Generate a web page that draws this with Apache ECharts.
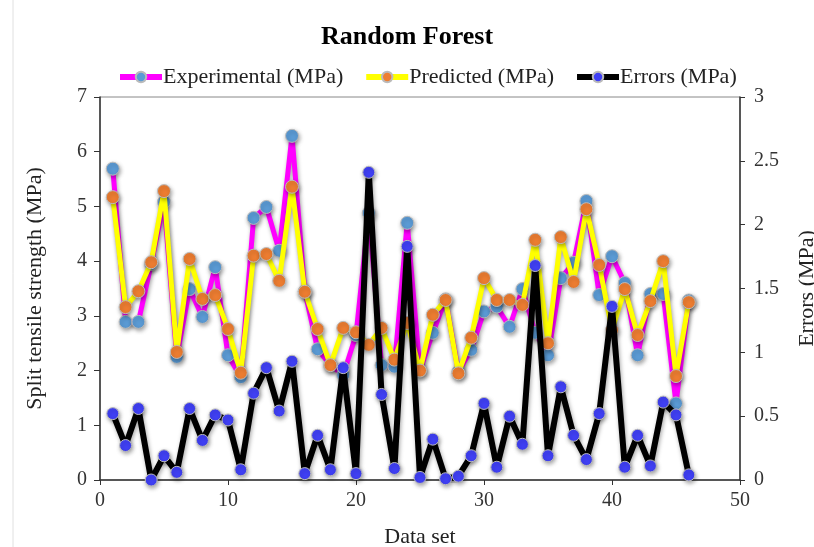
<!DOCTYPE html>
<html>
<head>
<meta charset="utf-8">
<script src="https://cdn.jsdelivr.net/npm/echarts@6/dist/echarts.min.js"></script>
<style>html,body{margin:0;padding:0;background:#fff;}#c{width:814px;height:547px;}</style>
</head>
<body>
<div id="c"></div>
<script>
var dataSet = [1,2,3,4,5,6,7,8,9,10,11,12,13,14,15,16,17,18,19,20,21,22,23,24,25,26,27,28,29,30,31,32,33,34,35,36,37,38,39,40,41,42,43,44,45,46];
var experimental = [5.69,2.89,2.89,3.95,5.08,2.25,3.49,2.98,3.89,2.28,1.88,4.79,4.99,4.19,6.29,3.45,2.39,2.1,1.92,2.65,4.88,2.1,2.07,4.7,2.0,2.69,3.3,1.98,2.38,3.08,3.17,2.8,3.49,2.69,2.28,3.69,3.97,5.1,3.38,4.09,3.6,2.28,3.4,3.4,1.4,3.28];
var predicted = [5.17,3.16,3.45,3.98,5.28,2.34,4.04,3.31,3.38,2.76,1.96,4.1,4.13,3.64,5.36,3.44,2.76,2.1,2.78,2.7,2.47,2.78,2.2,2.87,2.0,3.02,3.29,1.95,2.6,3.69,3.29,3.29,3.2,4.39,2.5,4.44,3.62,4.95,3.93,2.74,3.49,2.65,3.27,4.0,1.9,3.25];
var errors = [0.52,0.27,0.56,0.0,0.19,0.06,0.56,0.31,0.51,0.47,0.08,0.68,0.88,0.54,0.93,0.05,0.35,0.08,0.88,0.05,2.41,0.67,0.09,1.83,0.02,0.32,0.01,0.03,0.19,0.6,0.1,0.5,0.28,1.68,0.19,0.73,0.35,0.16,0.52,1.36,0.1,0.35,0.11,0.61,0.51,0.04];

function pairs(vals){ return dataSet.map(function(x,i){ return [x, vals[i]]; }); }
var FONT = '"Liberation Serif", "Times New Roman", serif';
var shadow = {shadowColor:'rgba(0,0,0,0.35)', shadowBlur:4, shadowOffsetX:1, shadowOffsetY:2};

var chart = echarts.init(document.getElementById('c'), null, {renderer:'canvas'});
chart.setOption({
  animation:false,
  backgroundColor:'#fff',
  title:{text:'Random Forest', left:'center', top:19, textStyle:{fontFamily:FONT, fontSize:26, fontWeight:'bold', color:'#000'}},
  legend:{
    top:61, left:112, itemWidth:42, itemHeight:13, itemGap:20,
    lineStyle:{width:6},
    textStyle:{fontFamily:FONT, fontSize:22, color:'#222', padding:[0,0,0,-4]},
    data:['Experimental (MPa)','Predicted (MPa)','Errors (MPa)']
  },
  graphic:[{type:'line', shape:{x1:13,y1:0,x2:13,y2:547}, style:{stroke:'#e0e0e0', lineWidth:1}}],
  grid:{left:100, right:74, top:97, bottom:67, outerBoundsMode:'none', containLabel:false, show:true, borderColor:'#888', borderWidth:1},
  xAxis:{
    type:'value', min:0, max:50, interval:10,
    name:'Data set', nameLocation:'middle', nameGap:46,
    nameTextStyle:{fontFamily:FONT, fontSize:22, color:'#222'},
    axisLine:{lineStyle:{color:'#333', width:1.5}},
    axisTick:{length:5, lineStyle:{color:'#333'}},
    axisLabel:{fontFamily:FONT, fontSize:20, color:'#333', margin:11},
    splitLine:{show:false}
  },
  yAxis:[{
    type:'value', min:0, max:7, interval:1,
    name:'Split tensile strength (MPa)', nameLocation:'middle', nameGap:54, nameRotate:90,
    nameTextStyle:{fontFamily:FONT, fontSize:22, color:'#222'},
    axisLine:{show:true, lineStyle:{color:'#333', width:1.5}},
    axisTick:{show:true, length:6, lineStyle:{color:'#333'}},
    axisLabel:{fontFamily:FONT, fontSize:20, color:'#333', margin:13},
    splitLine:{show:false}
  },{
    type:'value', min:0, max:3, interval:0.5, position:'right',
    name:'Errors (MPa)', nameLocation:'middle', nameGap:56, nameRotate:90,
    nameTextStyle:{fontFamily:FONT, fontSize:22, color:'#222'},
    axisLine:{show:true, lineStyle:{color:'#333', width:1.5}},
    axisTick:{show:true, length:5, lineStyle:{color:'#333'}},
    axisLabel:{fontFamily:FONT, fontSize:20, color:'#333', margin:14},
    splitLine:{show:false}
  }],
  series:[{
    name:'Experimental (MPa)', type:'line', yAxisIndex:0, data:pairs(experimental),
    symbol:'circle', symbolSize:13,
    lineStyle:Object.assign({color:'#FF00FF', width:5}, shadow),
    itemStyle:Object.assign({color:'#5B9BD5', borderColor:'#bbb', borderWidth:1}, shadow),
    z:2
  },{
    name:'Predicted (MPa)', type:'line', yAxisIndex:0, data:pairs(predicted),
    symbol:'circle', symbolSize:13,
    lineStyle:Object.assign({color:'#FFFF00', width:5}, shadow),
    itemStyle:Object.assign({color:'#ED7D31', borderColor:'#bbb', borderWidth:1}, shadow),
    z:3
  },{
    name:'Errors (MPa)', type:'line', yAxisIndex:1, data:pairs(errors),
    symbol:'circle', symbolSize:12,
    lineStyle:Object.assign({color:'#000', width:6}, shadow),
    itemStyle:Object.assign({color:'#4040F5', borderColor:'#bbb', borderWidth:1}, shadow),
    z:4
  }]
});
</script>
</body>
</html>
